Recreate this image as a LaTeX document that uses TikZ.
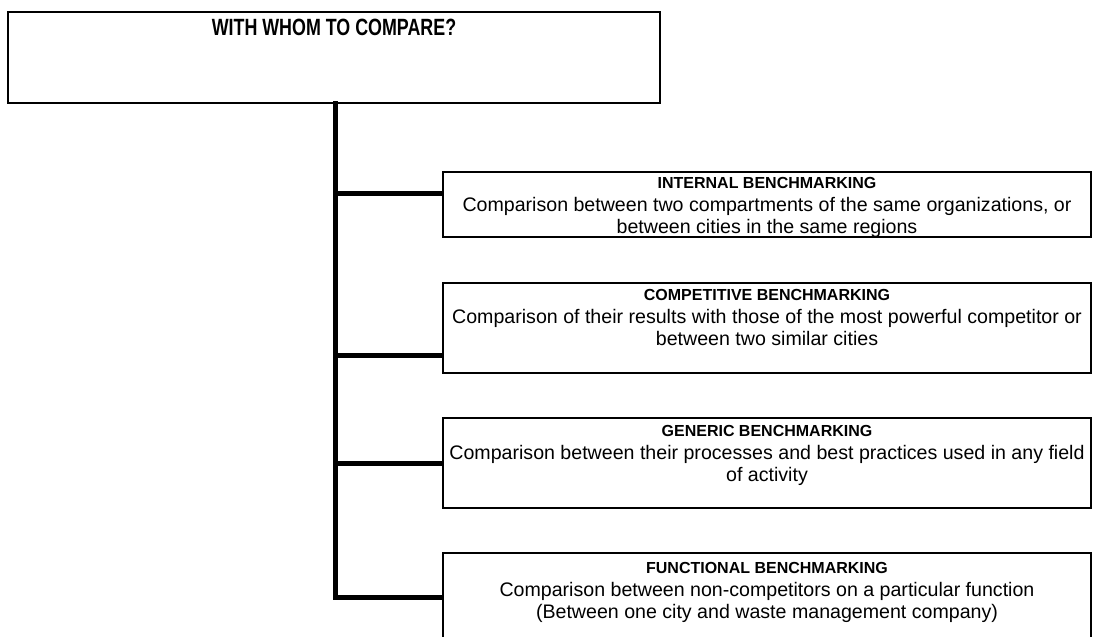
\documentclass[tikz,border=0pt]{standalone}
\usepackage{fontspec}
\setmainfont{Liberation Sans}
\newfontfamily\narrowfont[FakeStretch=0.76]{Liberation Sans}
\begin{document}
\begin{tikzpicture}[x=1pt,y=-1pt,
  framebox/.style={draw=black, line width=1.9pt, fill=white, inner sep=0pt},
  headtext/.style={anchor=north, align=center, inner sep=0pt, font=\fontsize{16}{21.5}\selectfont\bfseries},
  bodytext/.style={anchor=north, align=center, inner sep=0pt, font=\fontsize{19.6}{21.8}\selectfont},
  trunk/.style={line width=5pt, line cap=rect},
  branch/.style={line width=5pt}
]
\useasboundingbox (0,0) rectangle (1098,637);
\fill[white] (0,0) rectangle (1098,637);
% top box
\node[framebox, minimum width=652pt, minimum height=91pt] (top) at (334,57.5) {};
\node[anchor=center, inner sep=0pt, font=\narrowfont\fontsize{23.5}{25}\selectfont\bfseries] (title) at (334,27.5) {WITH WHOM TO COMPARE?};
% boxes
\node[framebox, minimum width=648pt, minimum height=65pt] (b1) at (767,204.5) {};
\node[framebox, minimum width=648pt, minimum height=90pt] (b2) at (767,328) {};
\node[framebox, minimum width=648pt, minimum height=90pt] (b3) at (767,463) {};
\node[framebox, minimum width=648pt, minimum height=90pt] (b4) at (767,598) {};
% texts
\node[headtext] (h1) at ([yshift=-6pt]b1.north) {INTERNAL BENCHMARKING};
\node[bodytext] (t1) at ([yshift=-26.5pt]b1.north) {Comparison between two compartments of the same organizations, or\\between cities in the same regions};
\node[headtext] (h2) at ([yshift=-7pt]b2.north) {COMPETITIVE BENCHMARKING};
\node[bodytext] (t2) at ([yshift=-27.5pt]b2.north) {Comparison of their results with those of the most powerful competitor or\\between two similar cities};
\node[headtext] (h3) at ([yshift=-8pt]b3.north) {GENERIC BENCHMARKING};
\node[bodytext] (t3) at ([yshift=-28.5pt]b3.north) {Comparison between their processes and best practices used in any field\\of activity};
\node[headtext] (h4) at ([yshift=-10pt]b4.north) {FUNCTIONAL BENCHMARKING};
\node[bodytext] (t4) at ([yshift=-30.5pt]b4.north) {Comparison between non-competitors on a particular function\\(Between one city and waste management company)};
% connectors
\coordinate (j1) at (335,193);
\coordinate (j2) at (335,355);
\coordinate (j3) at (335,463);
\coordinate (j4) at (335,597);
\draw[trunk] (top.south -| j1) -- (j4);
\draw[branch] (j1) -- (j1 -| b1.west);
\draw[branch] (j2) -- (j2 -| b2.west);
\draw[branch] (j3) -- (j3 -| b3.west);
\draw[branch] (j4) -- (j4 -| b4.west);
\end{tikzpicture}
\end{document}
